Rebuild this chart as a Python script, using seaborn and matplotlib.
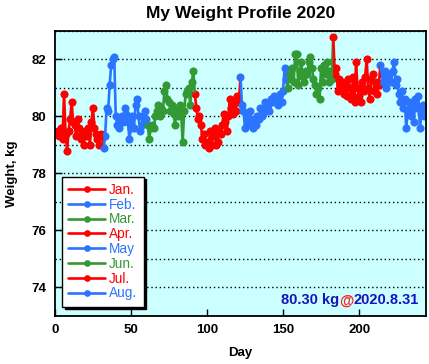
import pandas as pd
import seaborn as sns
import matplotlib.pyplot as plt
from matplotlib.lines import Line2D
from matplotlib.ticker import MultipleLocator

# daily weight (kg), 2020
jan = [79.4, 79.5, 79.3, 79.6, 79.2, 80.8, 79.4, 78.8, 79.5, 79.9,
       80.5, 79.8, 79.7, 79.3, 79.9, 79.6, 79.2, 79.4, 79.0, 79.5,
       79.3, 79.6, 79.0, 79.8, 80.3, 79.6, 79.4, 79.2, 79.0, 79.4, 79.3]
feb = [78.9, 79.3, 80.3, 80.2, 81.1, 81.8, 82.0, 82.1, 80.0, 79.7,
       79.6, 79.9, 80.0, 79.8, 80.3, 80.1, 79.8, 79.2, 79.6, 80.0,
       79.6, 80.4, 80.6, 80.0, 79.5, 79.7, 80.0, 80.2, 79.9]
mar = [79.7, 79.2, 79.6, 79.7, 79.6, 80.0, 80.2, 80.4, 80.0, 80.3,
       80.2, 80.9, 81.1, 80.6, 80.5, 80.2, 80.4, 80.1, 79.7, 80.3,
       80.0, 80.4, 80.1, 79.1, 80.2, 80.8, 80.9, 81.0, 80.4, 81.2, 81.6]
apr = [80.8, 80.3, 79.9, 80.0, 79.7, 79.2, 79.4, 79.0, 79.1, 78.9,
       79.5, 79.0, 79.3, 79.6, 79.0, 79.1, 79.5, 79.4, 79.7, 80.1,
       79.8, 79.5, 80.0, 80.6, 80.3, 80.1, 80.5, 80.2, 80.7, 80.5]
may = [81.4, 80.4, 80.2, 79.6, 80.0, 79.8, 80.2, 79.7, 79.6, 79.9,
       79.7, 80.0, 79.9, 80.3, 80.0, 80.1, 80.5, 80.3, 80.4, 80.2,
       80.6, 80.5, 80.7, 80.5, 80.6, 80.4, 80.8, 80.5, 80.9, 81.7, 81.3]
jun = [81.0, 81.5, 81.3, 81.7, 81.2, 82.2, 82.2, 81.1, 81.6, 81.9,
       81.4, 81.2, 81.6, 81.5, 81.9, 82.1, 81.7, 81.3, 81.1, 80.8,
       81.0, 80.6, 81.7, 81.2, 81.8, 81.5, 81.9, 81.2, 81.6, 81.3]
jul = [82.8, 81.5, 81.7, 80.9, 81.3, 81.0, 81.2, 80.8, 81.1, 80.7,
       81.3, 81.0, 80.6, 81.4, 80.5, 81.9, 81.0, 80.7, 80.5, 81.2,
       80.9, 81.4, 82.0, 81.0, 80.6, 81.3, 81.5, 80.9, 81.2, 80.8, 81.1]
aug = [81.8, 81.5, 81.2, 81.6, 81.0, 81.4, 81.5, 81.2, 81.6, 81.9,
       81.1, 81.3, 80.8, 80.5, 80.9, 80.3, 80.6, 79.6, 80.2, 80.5,
       80.0, 80.4, 79.8, 80.6, 80.3, 80.7, 79.6, 80.1, 80.4, 80.0, 80.3]

month_names = ["Jan.", "Feb.", "Mar.", "Apr.", "May", "Jun.", "Jul.", "Aug."]
month_data = [jan, feb, mar, apr, may, jun, jul, aug]
month_colors = ["#ff0000", "#2a74ff", "#339933"] * 3
month_colors = month_colors[:8]

# build long table; each month's line runs on to the first day of the next month
rows_line = []
rows_pts = []
day = 1
for i, (name, vals) in enumerate(zip(month_names, month_data)):
    for j, v in enumerate(vals):
        rows_line.append((day + j, v, name))
        rows_pts.append((day + j, v, name))
    if i + 1 < len(month_data):
        rows_line.append((day + len(vals), month_data[i + 1][0], name))
    day += len(vals)
lines_df = pd.DataFrame(rows_line, columns=["Day", "Weight", "Month"])
pts_df = pd.DataFrame(rows_pts, columns=["Day", "Weight", "Month"])
palette = dict(zip(month_names, month_colors))

sns.set_style("ticks")
plt.rcParams["font.family"] = ["Liberation Sans", "DejaVu Sans"]
plt.rcParams.update({"text.color": "black", "axes.labelcolor": "black",
                     "xtick.color": "black", "ytick.color": "black"})

fig = plt.figure(figsize=(4.29, 3.64), dpi=100)
ax = fig.add_axes([0.128, 0.132, 0.865, 0.783])
ax.set_facecolor("#ccffff")

for name in month_names:
    sub_l = lines_df[lines_df["Month"] == name]
    sub_p = pts_df[pts_df["Month"] == name]
    sns.lineplot(data=sub_l, x="Day", y="Weight", color=palette[name],
                 linewidth=1.9, ax=ax, legend=False, sort=False)
    sns.scatterplot(data=sub_p, x="Day", y="Weight", color=palette[name],
                    s=34, linewidth=0, ax=ax, legend=False)

ax.set_xlim(0, 244)
ax.set_ylim(73, 83)
ax.xaxis.set_major_locator(MultipleLocator(50))
ax.yaxis.set_major_locator(MultipleLocator(2))
ax.yaxis.set_minor_locator(MultipleLocator(1))
ax.tick_params(axis="both", which="major", direction="in", length=5, width=1,
               labelsize=9.5, pad=6, colors="black")
ax.tick_params(axis="y", which="minor", length=0)
for lab in ax.get_xticklabels() + ax.get_yticklabels():
    lab.set_fontweight("bold")
ax.grid(axis="y", which="both", color="black", linestyle=(0, (1, 2)), linewidth=1)
for sp in ax.spines.values():
    sp.set_linewidth(1.3)
    sp.set_color("black")
    sp.set_visible(True)

ax.set_title("My Weight Profile 2020", fontsize=12.5, fontweight="bold", pad=9,
             color="black")
ax.set_xlabel("Day", fontsize=9.5, fontweight="bold", labelpad=8)
ax.set_ylabel("Weight, kg", fontsize=9.5, fontweight="bold", labelpad=10)

handles = [Line2D([], [], color=c, linewidth=1.9, marker="o", markersize=4.8,
                  markeredgewidth=0) for c in month_colors]
leg = ax.legend(handles, month_names, loc="lower left", bbox_to_anchor=(0.02, 0.033),
                borderaxespad=0, fontsize=9.8, handlelength=2.7, handletextpad=0.3,
                labelspacing=0.06, borderpad=0.45, fancybox=False, framealpha=1,
                edgecolor="black", shadow={"color": "black", "alpha": 1})
leg.get_frame().set_linewidth(1.0)
for txt, c in zip(leg.get_texts(), month_colors):
    txt.set_color(c)

# last reading, right-aligned at the lower right
last_txt = f"{aug[-1]:.2f} kg"
t3 = ax.text(0.98, 0.03, "2020.8.31", transform=ax.transAxes, ha="right", va="bottom",
             fontsize=10.5, fontweight="bold", color="#1414c0")
t2 = ax.annotate("@", xy=(0, 0), xycoords=t3, ha="right", va="bottom",
                 fontsize=10.5, fontweight="bold", color="#ff2020")
ax.annotate(last_txt, xy=(0, 0), xycoords=t2, ha="right", va="bottom",
            fontsize=10.5, fontweight="bold", color="#1414c0")

fig.savefig("out.png", dpi=100, facecolor="white")
